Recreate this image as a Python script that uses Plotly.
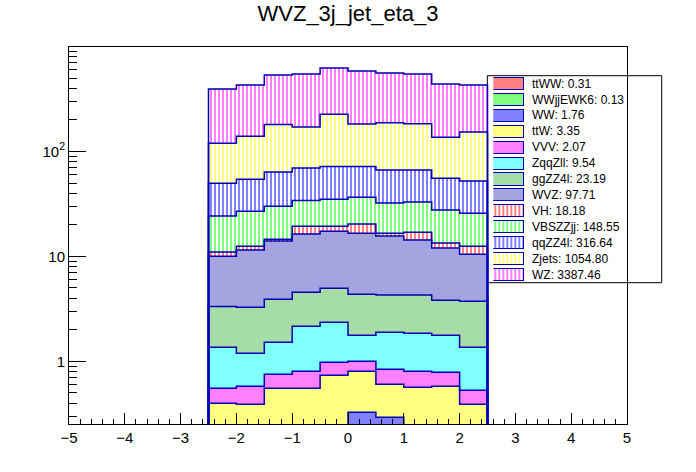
"""Stacked eta distribution for WVZ_3j_jet_eta_3, ROOT THStack look-alike in Plotly."""

import numpy as np
import plotly.graph_objects as go

# bin centres (width 0.5, from -2.5 to 2.5)
bin_centers = [-2.25, -1.75, -1.25, -0.75, -0.25, 0.25, 0.75, 1.25, 1.75, 2.25]
bin_width = 0.5

# per-bin yields, bottom of the stack first
ttWW = [0.0, 0.0, 0.0, 0.0, 0.0, 0.03, 0.02, 0.0, 0.0, 0.0]
WWjjEWK6 = [0.01, 0.01, 0.02, 0.02, 0.01, 0.01, 0.02, 0.01, 0.01, 0.01]
WW = [0.0, 0.0, 0.0, 0.0, 0.0, 0.286, 0.252, 0.0, 0.0, 0.0]
ttW = [0.387, 0.379, 0.533, 0.533, 0.725, 0.477, 0.312, 0.555, 0.567, 0.379]
VVV = [0.156, 0.188, 0.198, 0.250, 0.243, 0.197, 0.235, 0.238, 0.208, 0.140]
ZqqZll = [0.807, 0.613, 0.769, 1.357, 1.382, 0.77, 1.051, 1.047, 0.985, 0.831]
ggZZ4l = [1.96, 2.09, 2.39, 2.39, 2.61, 2.59, 2.40, 2.44, 2.05, 2.38]
WVZ = [6.68, 8.22, 10.09, 11.75, 12.43, 12.24, 11.31, 10.01, 8.18, 6.76]
VH = [1.0, 1.0, 0.6, 3.1, 2.0, 3.7, 1.0, 2.7, 1.4, 2.0]
VBSZZjj = [13.2, 14.5, 15.5, 14.7, 15.7, 16.4, 15.6, 15.9, 14.2, 13.3]
qqZZ4l = [25.7, 27.5, 33.5, 35.4, 36.8, 35.2, 34.3, 33.6, 28.1, 26.4]
Zjets = [70, 85, 117, 102, 155, 111, 121, 117, 81, 101]
WZ = [274, 290, 355, 377, 398, 402, 373, 365, 303, 277]

# legend labels carry the integrals printed in the reference
labels = [
    "ttWW: 0.31", "WWjjEWK6: 0.13", "WW: 1.76", "ttW: 3.35", "VVV: 2.07",
    "ZqqZll: 9.54", "ggZZ4l: 23.19", "WVZ: 97.71", "VH: 18.18",
    "VBSZZjj: 148.55", "qqZZ4l: 316.64", "Zjets: 1054.80", "WZ: 3387.46",
]
series = [ttWW, WWjjEWK6, WW, ttW, VVV, ZqqZll, ggZZ4l, WVZ, VH,
          VBSZZjj, qqZZ4l, Zjets, WZ]

# checker fills (1px ROOT checkerboard) are drawn as their blended tint,
# the last five keep the vertical hatch
colors = ["#ff8080", "#80ff80", "#8080ff", "#ffff80", "#ff80ff", "#80ffff",
          "#a6dca6", "#a4a4e0", "#ff0000", "#00ff00", "#0000ff", "#ffff00",
          "#ff00ff"]
hatch = [""] * 8 + ["|"] * 5

OUTLINE = "#0000b4"
BASELINE = 1e-3  # below the visible range, closes the side edges


def marker_for(shp, col, line_width):
    line = dict(width=line_width, color=OUTLINE)
    if shp == "":
        return dict(color=col, line=line)
    return dict(color="white", line=line,
                pattern=dict(shape="|", fgcolor=col, bgcolor="white", size=4,
                             solidity=0.5, fillmode="overlay"))


fig = go.Figure()
for name, vals, col, shp in zip(labels, series, colors, hatch):
    fig.add_trace(go.Bar(
        x=bin_centers, y=vals, width=bin_width, name=name, showlegend=False,
        marker=marker_for(shp, col, 0),
    ))

# step outlines of each cumulative layer
edges = np.array(bin_centers) - bin_width / 2
edges = np.append(edges, bin_centers[-1] + bin_width / 2)
cum = np.zeros(len(bin_centers))
for vals in series:
    cum = cum + np.array(vals)
    xs = np.repeat(edges, 2)
    ys = np.concatenate([[BASELINE], np.repeat(cum, 2), [BASELINE]])
    fig.add_trace(go.Scatter(x=xs, y=ys, mode="lines", showlegend=False,
                             hoverinfo="skip",
                             line=dict(color=OUTLINE, width=1.5)))

# ROOT style legend box: swatches in a small inset axis, labels as text
for i, (name, col, shp) in enumerate(zip(labels, colors, hatch)):
    fig.add_trace(go.Bar(
        x=[1], y=[i], base=[0], orientation="h", width=0.76,
        xaxis="x2", yaxis="y2", showlegend=False, hoverinfo="skip",
        marker=marker_for(shp, col, 1),
    ))
    fig.add_annotation(text=name, xref="paper", yref="y2", x=0.826, y=i,
                       xanchor="left", yanchor="middle", showarrow=False,
                       font=dict(size=12, color="black"))

fig.add_shape(type="rect", xref="paper", yref="paper",
              x0=0.7497, x1=1.0622, y0=0.3748, y1=0.9239,
              line=dict(color="black", width=1), fillcolor="white",
              layer="below")

y_minor = [v * d for d in (0.1, 1, 10, 100) for v in range(2, 10)]
y_minor = [v for v in y_minor if 0.25 < v < 1000]

fig.update_layout(
    width=696, height=472,
    barmode="stack", bargap=0,
    paper_bgcolor="white", plot_bgcolor="rgba(0,0,0,0)",
    font=dict(family="Liberation Sans, Arial, sans-serif", color="black"),
    margin=dict(l=69, r=69, t=47, b=48),
    title=dict(text="WVZ_3j_jet_eta_3", x=0.5, xanchor="center",
               y=0.971, yanchor="middle", font=dict(size=22)),
    showlegend=False,
    xaxis=dict(range=[-5, 5], dtick=1, tick0=0, ticks="inside", ticklen=11,
               tickcolor="black", showgrid=False, zeroline=False,
               showline=True, linecolor="black", linewidth=1, mirror=True,
               tickfont=dict(size=15),
               minor=dict(ticks="inside", ticklen=5, dtick=0.2, tick0=0,
                          tickcolor="black", showgrid=False)),
    yaxis=dict(type="log", range=[-0.598, 2.996], ticks="inside", ticklen=17,
               tickcolor="black", showgrid=False, zeroline=False,
               showline=True, linecolor="black", linewidth=1, mirror=True,
               tickvals=[1, 10, 100], ticktext=["1", "10", "10<sup>2</sup>"],
               tickfont=dict(size=15),
               minor=dict(ticks="inside", ticklen=8, tickvals=y_minor,
                          tickcolor="black", showgrid=False)),
    xaxis2=dict(domain=[0.7604, 0.8160], range=[0, 1], anchor="y2",
                visible=False, fixedrange=True),
    yaxis2=dict(domain=[0.3748, 0.9239], range=[12.5, -0.5], anchor="x2",
                visible=False, fixedrange=True),
)

# the page's default body margin would shift the figure by 8px
fig.write_html("out.html", config={"displayModeBar": False},
               post_script="document.body.style.margin='0';")
